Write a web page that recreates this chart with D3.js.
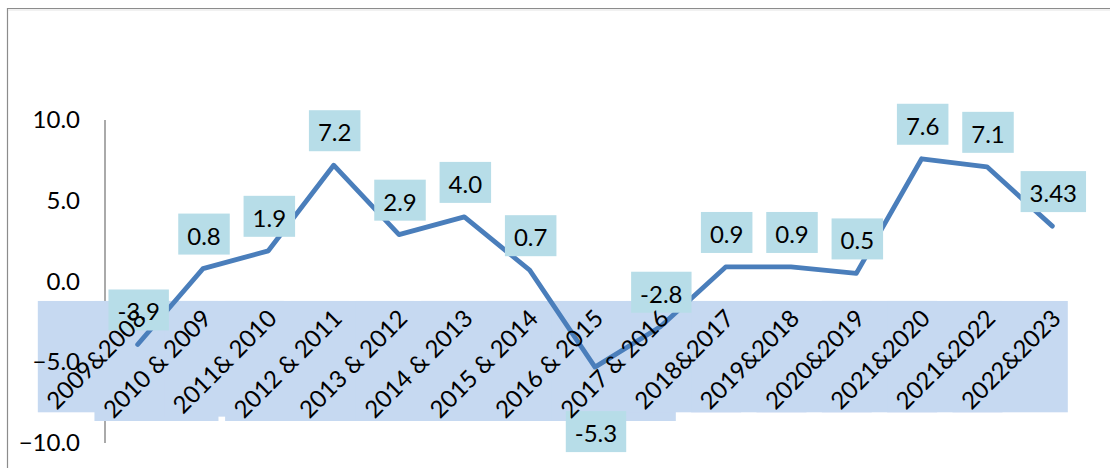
<!DOCTYPE html>
<html>
<head>
<meta charset="utf-8">
<script src="https://cdn.jsdelivr.net/npm/d3@7"></script>
<style>
  html, body { margin: 0; padding: 0; background: #fff; }
  svg { display: block; font-family: Lato, "Open Sans", sans-serif; }
</style>
</head>
<body>
<svg id="chart" width="1110" height="468"></svg>
<script>
// ---- data ----
const categories = ["2009&2008", "2010 & 2009", "2011& 2010", "2012 & 2011", "2013 & 2012",
  "2014 & 2013", "2015 & 2014", "2016 & 2015", "2017 & 2016", "2018&2017",
  "2019&2018", "2020&2019", "2021&2020", "2021&2022", "2022&2023"];
const values = [-3.9, 0.8, 1.9, 7.2, 2.9, 4.0, 0.7, -5.3, -2.8, 0.9, 0.9, 0.5, 7.6, 7.1, 3.43];
const valueLabels = ["-3.9", "0.8", "1.9", "7.2", "2.9", "4.0", "0.7", "-5.3", "-2.8", "0.9", "0.9", "0.5", "7.6", "7.1", "3.43"];
const labelSide = ["above", "above", "above", "above", "above", "above", "above", "below",
  "above", "above", "above", "above", "above", "above", "above"];
const yTicks = [-10, -5, 0, 5, 10];

// ---- layout ----
const svg = d3.select("#chart");
const W = 1110, H = 468;
svg.append("rect").attr("width", W).attr("height", H).attr("fill", "#fff");

// outer frame
svg.append("line").attr("x1", 7.5).attr("x2", 7.5).attr("y1", 8).attr("y2", H)
  .attr("stroke", "#8c8c8c").attr("stroke-width", 1.2);
svg.append("line").attr("x1", 7).attr("x2", W).attr("y1", 8.5).attr("y2", 8.5)
  .attr("stroke", "#8c8c8c").attr("stroke-width", 1.2);
svg.append("line").attr("x1", 8).attr("x2", W).attr("y1", 10).attr("y2", 10)
  .attr("stroke", "#e3e3e3").attr("stroke-width", 1);

const x = d3.scalePoint().domain(categories).range([105, 1085]).padding(0.5);
const y = d3.scaleLinear().domain([-10, 10]).range([443, 120]);

const FONT = 24;
const axisLineG = svg.append("g");
const bandG = svg.append("g");
const axisG = svg.append("g");
const lineG = svg.append("g");
const dataLabelG = svg.append("g");
const catG = svg.append("g");

// y axis line (under the label band)
axisLineG.append("line")
  .attr("x1", 105).attr("x2", 105)
  .attr("y1", y.range()[1]).attr("y2", y.range()[0])
  .attr("stroke", "#868686").attr("stroke-width", 1.4);

// y axis labels
const yAxis = d3.axisLeft(y).tickValues(yTicks).tickFormat(d3.format(".1f")).tickSize(0).tickPadding(25);
axisG.attr("transform", "translate(105,0)").call(yAxis);
axisG.select(".domain").remove();
axisG.selectAll("text").attr("font-size", FONT).attr("font-family", "Lato, sans-serif").attr("fill", "#000");

// category labels (rotated) with per-label background boxes
const catTexts = catG.selectAll("text").data(categories).join("text")
  .attr("transform", d => `translate(${x(d) + 4},314) rotate(-45)`)
  .attr("text-anchor", "end")
  .attr("dy", "0.35em")
  .attr("font-size", FONT)
  .attr("fill", "#000")
  .text(d => d);

catTexts.each(function () {
  const r = this.getBoundingClientRect();
  const s = svg.node().getBoundingClientRect();
  bandG.append("rect")
    .attr("x", r.left - s.left - 2)
    .attr("y", r.top - s.top - 2)
    .attr("width", r.width + 4)
    .attr("height", r.height)
    .attr("fill", "#c6d9f1");
});

// line
const line = d3.line().x((d, i) => x(categories[i])).y(d => y(d));
lineG.append("path").datum(values)
  .attr("d", line)
  .attr("fill", "none")
  .attr("stroke", "#4a7ebb")
  .attr("stroke-width", 4.8)
  .attr("stroke-linejoin", "round")
  .attr("stroke-linecap", "round");

// data labels
const BOX_H = 41;
values.forEach((v, i) => {
  const cx = x(categories[i]) + 1;
  const g = dataLabelG.append("g");
  const t = g.append("text")
    .attr("text-anchor", "middle")
    .attr("font-size", FONT)
    .attr("fill", "#000")
    .text(valueLabels[i]);
  const tw = t.node().getComputedTextLength();
  const bw = tw + 18;
  const top = labelSide[i] === "above" ? y(v) - 14 - BOX_H : y(v) + 44;
  g.insert("rect", "text")
    .attr("x", cx - bw / 2).attr("y", top)
    .attr("width", bw).attr("height", BOX_H)
    .attr("fill", "#b7dde8");
  t.attr("x", cx).attr("y", top + BOX_H / 2 + 1).attr("dominant-baseline", "central");
});
</script>
</body>
</html>
